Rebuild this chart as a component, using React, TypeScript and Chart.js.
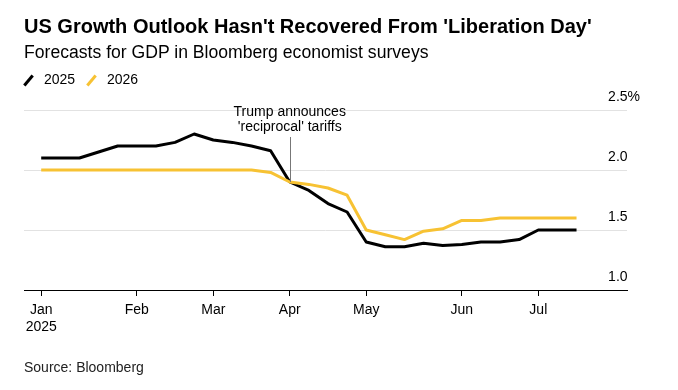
import React, { useEffect, useRef } from 'react';
import { Chart, registerables } from 'chart.js';

Chart.register(...registerables);

// Weekly survey dates (Fridays)
const weeks: string[] = [
  '2025-01-03', '2025-01-10', '2025-01-17', '2025-01-24', '2025-01-31',
  '2025-02-07', '2025-02-14', '2025-02-21', '2025-02-28',
  '2025-03-07', '2025-03-14', '2025-03-21', '2025-03-28',
  '2025-04-04', '2025-04-11', '2025-04-18', '2025-04-25',
  '2025-05-02', '2025-05-09', '2025-05-16', '2025-05-23', '2025-05-30',
  '2025-06-06', '2025-06-13', '2025-06-20', '2025-06-27',
  '2025-07-04', '2025-07-11', '2025-07-18',
];

const values2025: number[] = [
  2.1, 2.1, 2.1, 2.15, 2.2,
  2.2, 2.2, 2.23, 2.3,
  2.25, 2.23, 2.2, 2.16,
  1.9, 1.83, 1.72, 1.65,
  1.4, 1.36, 1.36, 1.39, 1.37,
  1.38, 1.4, 1.4, 1.42,
  1.5, 1.5, 1.5,
];

const values2026: number[] = [
  2.0, 2.0, 2.0, 2.0, 2.0,
  2.0, 2.0, 2.0, 2.0,
  2.0, 2.0, 2.0, 1.98,
  1.9, 1.88, 1.85, 1.79,
  1.5, 1.46, 1.42, 1.49, 1.51,
  1.58, 1.58, 1.6, 1.6,
  1.6, 1.6, 1.6,
];

const monthNames: string[] = ['Jan', 'Feb', 'Mar', 'Apr', 'May', 'Jun', 'Jul', 'Aug', 'Sep', 'Oct', 'Nov', 'Dec'];
const yTicks: number[] = [1.0, 1.5, 2.0, 2.5];
const annotationIndex = 13; // 'Liberation Day' survey
const annotationLines: string[] = ['Trump announces', "'reciprocal' tariffs"];

const BLACK = '#000000';
const YELLOW = '#f7c233';
const FONT = "'Liberation Sans', Arial, Helvetica, sans-serif";

// indices where a new month starts
const monthTickIdx: number[] = weeks
  .map((d, i) => (i === 0 || d.slice(5, 7) !== weeks[i - 1].slice(5, 7) ? i : -1))
  .filter((i) => i >= 0);

const annotationPlugin = {
  id: 'tariffNote',
  afterDatasetsDraw(chart: any) {
    const { ctx, chartArea, scales } = chart;
    const x = scales.x.getPixelForValue(annotationIndex);
    const yPt = scales.y.getPixelForValue(values2025[annotationIndex]);
    ctx.save();
    ctx.strokeStyle = '#777777';
    ctx.lineWidth = 1;
    ctx.beginPath();
    ctx.moveTo(Math.round(x) + 0.5, chartArea.top + 27);
    ctx.lineTo(Math.round(x) + 0.5, yPt);
    ctx.stroke();
    ctx.fillStyle = '#000000';
    ctx.font = `14px ${FONT}`;
    ctx.textAlign = 'center';
    ctx.textBaseline = 'alphabetic';
    ctx.fillText(annotationLines[0], x, chartArea.top + 6);
    ctx.fillText(annotationLines[1], x, chartArea.top + 21);
    ctx.restore();
  },
};

export default function App() {
  const canvasRef = useRef<HTMLCanvasElement | null>(null);

  useEffect(() => {
    const canvas = canvasRef.current;
    if (!canvas) return;
    const chart = new Chart(canvas, {
      type: 'line',
      data: {
        datasets: [
          {
            label: '2026',
            data: values2026.map((v, i) => ({ x: i, y: v })),
            borderColor: YELLOW,
            borderWidth: 3,
            pointRadius: 0,
            tension: 0,
            borderJoinStyle: 'round',
          },
          {
            label: '2025',
            data: values2025.map((v, i) => ({ x: i, y: v })),
            borderColor: BLACK,
            borderWidth: 3,
            pointRadius: 0,
            tension: 0,
            borderJoinStyle: 'round',
          },
        ],
      },
      options: {
        responsive: false,
        animation: false,
        events: [],
        layout: { padding: { left: 24, right: 51, top: 110, bottom: 40 } },
        plugins: {
          legend: { display: false },
          tooltip: { enabled: false },
          title: { display: false },
        },
        scales: {
          x: {
            type: 'linear',
            min: -0.9,
            max: 30.64,
            afterBuildTicks: (s: any) => {
              s.ticks = monthTickIdx.map((v) => ({ value: v }));
            },
            afterFit: (s: any) => {
              s.height = 60;
            },
            grid: {
              drawOnChartArea: false,
              drawTicks: true,
              tickLength: 6,
              color: '#000000',
              lineWidth: 1,
            },
            border: { display: true, color: '#000000', width: 1 },
            ticks: {
              autoSkip: false,
              maxRotation: 0,
              padding: 5,
              color: '#000000',
              font: { family: FONT, size: 14, lineHeight: 1.25 },
              callback: (value: any) => {
                const i = Math.round(Number(value));
                const d = weeks[i];
                if (!d) return '';
                const m = monthNames[Number(d.slice(5, 7)) - 1];
                return i === 0 ? [m, d.slice(0, 4)] : m;
              },
            },
          },
          y: {
            position: 'right',
            min: 1,
            max: 2.5,
            afterBuildTicks: (s: any) => {
              s.ticks = yTicks.map((v) => ({ value: v }));
            },
            afterFit: (s: any) => {
              s.width = 0;
            },
            grid: {
              drawTicks: false,
              color: (c: any) => (c.tick && Math.abs(c.tick.value - 1) < 1e-6 ? 'rgba(0,0,0,0)' : '#e2e2e2'),
              lineWidth: 1,
            },
            border: { display: false },
            ticks: {
              mirror: true,
              crossAlign: 'far',
              padding: 13,
              labelOffset: -13,
              color: '#000000',
              font: { family: FONT, size: 14 },
              callback: (value: any) => {
                const v = Number(value);
                return v === 2.5 ? '2.5%' : v.toFixed(1);
              },
            },
          },
        },
      },
      plugins: [annotationPlugin],
    } as any);
    return () => chart.destroy();
  }, []);

  const text = (extra: React.CSSProperties): React.CSSProperties => ({
    position: 'absolute',
    fontFamily: FONT,
    lineHeight: 1,
    whiteSpace: 'nowrap',
    color: '#000',
    ...extra,
  });

  const slash = (left: number, color: string): React.CSSProperties => ({
    position: 'absolute',
    left: left - 1.5,
    top: 80 - 6.5,
    width: 3,
    height: 13,
    background: color,
    transform: 'rotate(40deg)',
  });

  return (
    <div style={{ position: 'absolute', left: 0, top: 0, width: 678, height: 390, background: '#fff', overflow: 'hidden' }}>
      <canvas ref={canvasRef} width={678} height={390} style={{ position: 'absolute', left: 0, top: 0, width: 678, height: 390 }} />
      <div style={text({ left: 24, top: 16.4, fontSize: 20, fontWeight: 700 })}>
        US Growth Outlook Hasn't Recovered From 'Liberation Day'
      </div>
      <div style={text({ left: 24, top: 43.6, fontSize: 17.6 })}>
        Forecasts for GDP in Bloomberg economist surveys
      </div>
      <div style={slash(28.5, BLACK)} />
      <div style={text({ left: 44, top: 72.2, fontSize: 14 })}>2025</div>
      <div style={slash(91.2, YELLOW)} />
      <div style={text({ left: 107, top: 72.2, fontSize: 14 })}>2026</div>
      <div style={text({ left: 24, top: 360.4, fontSize: 14, color: '#222' })}>Source: Bloomberg</div>
    </div>
  );
}
